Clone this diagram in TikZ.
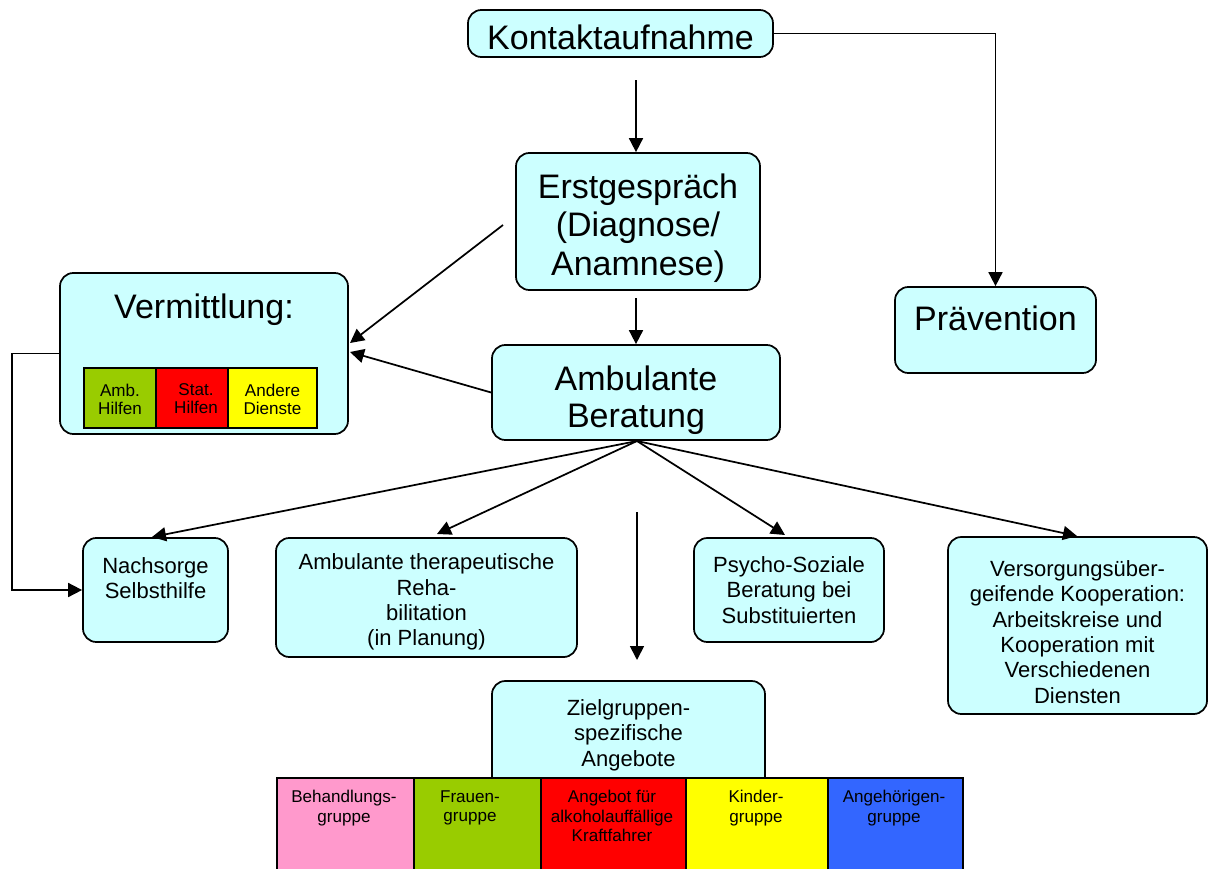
\documentclass[tikz,border=0pt]{standalone}
\usepackage{fontspec}
\setmainfont{Liberation Sans}
\usetikzlibrary{arrows.meta,calc}
\definecolor{boxcyan}{HTML}{CCFFFF}
\definecolor{cgreen}{HTML}{99CC00}
\definecolor{cred}{HTML}{FF0000}
\definecolor{cyellow}{HTML}{FFFF00}
\definecolor{cpink}{HTML}{FF99CC}
\definecolor{cblue}{HTML}{3366FF}
\tikzset{
  sz/.style 2 args={minimum width=0.75*#1, minimum height=0.75*#2},
  box/.style={draw=black, line width=1.3pt, fill=boxcyan, rounded corners=10pt, inner sep=0pt},
  cell/.style={draw=black, line width=1.3pt, inner sep=0pt},
  bigtxt/.style={font=\fontsize{25.5}{29}\selectfont, align=center, inner sep=0pt},
  midtxt/.style={font=\fontsize{16.5}{19}\selectfont, align=center, inner sep=0pt},
  smalltxt/.style={font=\fontsize{12.8}{14.6}\selectfont, align=center, inner sep=0pt},
  conn/.style={line width=1.3pt, -{Triangle[length=10.5pt,width=10.5pt]}},
}
\begin{document}
\begin{tikzpicture}[x=0.75pt,y=-0.75pt]
\clip (0,0) rectangle (1209,868);
\fill[white] (0,0) rectangle (1209,868);

% main boxes
\node[box, sz={305}{47}] (kontakt) at (620.5,33.5) {};
\node[bigtxt] (kontakttxt) at (620.5,37) {Kontaktaufnahme};

\node[box, sz={244}{137}] (erst) at (638,221.5) {};
\node[bigtxt] (ersttxt) at (638,228) {Erstgespräch\\(Diagnose/\\Anamnese)};

\node[box, sz={201}{86}] (praev) at (995.5,330) {};
\node[bigtxt] (praevtxt) at (995.5,318) {Prävention};

\node[box, sz={288}{161}] (verm) at (204,353.5) {};
\node[bigtxt] (vermtxt) at (204,310) {Vermittlung:};
\node[cell, fill=cgreen, sz={72}{60}] (amb1) at (120,398) {};
\node[cell, fill=cred, sz={72}{60}] (stat1) at (192,398) {};
\node[cell, fill=cyellow, sz={89}{60}] (and1) at (272.5,398) {};
\node[smalltxt, font=\fontsize{12.8}{13.5}\selectfont] (amb1txt) at (120,399) {Amb.\\Hilfen};
\node[smalltxt, font=\fontsize{12.8}{13.5}\selectfont] (stat1txt) at (196,399) {Stat.\\Hilfen};
\node[smalltxt, font=\fontsize{12.8}{13.5}\selectfont] (and1txt) at (272.5,399) {Andere\\Dienste};

\node[box, sz={288}{95}] (amb) at (636,392.5) {};
\node[bigtxt, font=\fontsize{25.5}{28}\selectfont] (ambtxt) at (636,400) {Ambulante\\Beratung};

% second row
\node[box, sz={145}{104}] (nach) at (155.5,590) {};
\node[midtxt] (nachtxt) at (155.5,578) {Nachsorge\\Selbsthilfe};

\node[box, sz={301}{119}] (ther) at (426.5,597.5) {};
\node[midtxt] (thertxt) at (426.5,602) {Ambulante therapeutische\\Reha-\\bilitation\\(in Planung)};

\node[box, sz={190}{104}] (psy) at (789,590) {};
\node[midtxt] (psytxt) at (789,590) {Psycho-Soziale\\Beratung bei\\Substituierten};

\node[box, sz={259}{177}] (vers) at (1077.5,625.5) {};
\node[midtxt] (verstxt) at (1077.5,632) {Versorgungsüber-\\geifende Kooperation:\\Arbeitskreise und\\Kooperation mit\\Verschiedenen\\Diensten};

% target groups
\node[box, sz={273}{110}] (ziel) at (628.5,736) {};
\node[midtxt] (zieltxt) at (628.5,735) {Zielgruppen-\\spezifische\\Angebote};

\node[cell, fill=cpink, sz={137}{100}, anchor=north west] (g1) at (276,777) {};
\node[cell, fill=cgreen, sz={127}{100}, anchor=north west] (g2) at (413,777) {};
\node[cell, fill=cred, sz={145}{100}, anchor=north west] (g3) at (540,777) {};
\node[cell, fill=cyellow, sz={142}{100}, anchor=north west] (g4) at (685,777) {};
\node[cell, fill=cblue, sz={135}{100}, anchor=north west] (g5) at (827,777) {};
\node[smalltxt, anchor=north] (g1txt) at (344,790) {Behandlungs-\\gruppe};
\node[smalltxt, anchor=north] (g2txt) at (470,790) {Frauen-\\gruppe};
\node[smalltxt, anchor=north] (g3txt) at (612,790) {Angebot für\\alkoholauffällige\\Kraftfahrer};
\node[smalltxt, anchor=north] (g4txt) at (756,790) {Kinder-\\gruppe};
\node[smalltxt, anchor=north] (g5txt) at (894,790) {Angehörigen-\\gruppe};

% connector helper coordinates
\coordinate (k1) at (636,80);
\coordinate (e1) at (636,298);
\coordinate (e2) at (503,225);
\coordinate (a0) at (637,441);
\coordinate (z0) at (637,512);
\coordinate (z1) at (637,660);
\coordinate (vin1) at (350,343);
\coordinate (vin2) at (350,352);
\coordinate (tnach) at (152,537);
\coordinate (tther) at (437,534);
\coordinate (tpsy) at (785,535);
\coordinate (tvers) at (1077,536);

% connectors
\draw[conn] (k1) -- (k1 |- erst.north);
\draw[conn] (kontakt.east) -| (praev.north);
\draw[conn] (e1) -- (e1 |- amb.north);
\draw[conn] (e2) -- (vin1);
\draw[conn] (amb.west) -- (vin2);
\draw[conn] (a0) -- (tnach);
\draw[conn] (a0) -- (tther);
\draw[conn] (a0) -- (tpsy);
\draw[conn] (a0) -- (tvers);
\draw[conn] (z0) -- (z1);
\draw[conn] (verm.west) -- (12,353.5) |- (nach.west);
\end{tikzpicture}
\end{document}
